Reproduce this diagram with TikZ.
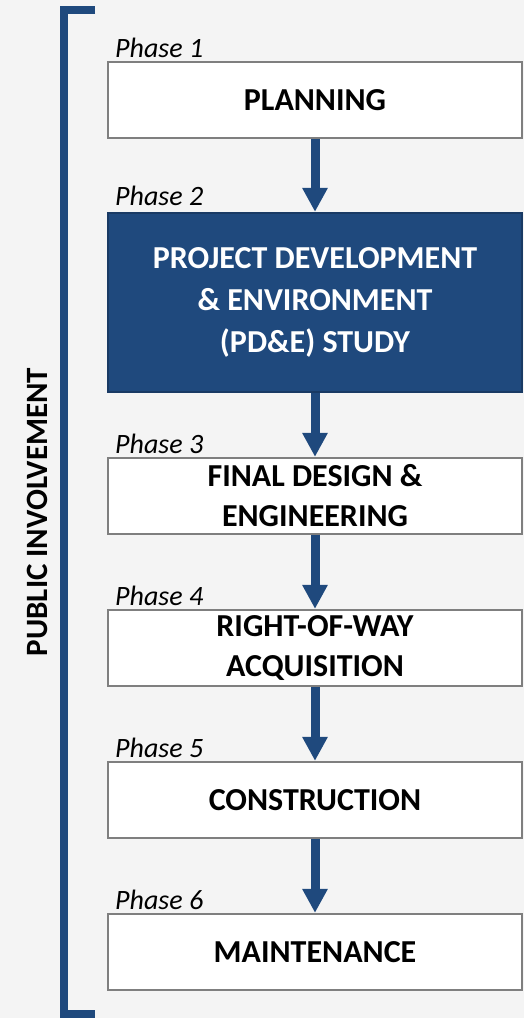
\documentclass[tikz,border=0pt]{standalone}
\usepackage{fontspec}
\setmainfont{Carlito}
\usetikzlibrary{arrows.meta}
\definecolor{fdotblue}{HTML}{1F497D}
\definecolor{bggray}{HTML}{F4F4F4}
\definecolor{boxline}{HTML}{7F7F7F}
\tikzset{
  phasebox/.style={draw=boxline, line width=1.3pt, fill=white, minimum width=414pt, inner sep=0pt,
    align=center, font=\fontsize{32}{40}\selectfont\bfseries, text=black},
  darkbox/.style={phasebox, fill=fdotblue, draw=fdotblue!80!black, text=white, font=\fontsize{32}{42}\selectfont\bfseries},
  phaselabel/.style={anchor=base west, inner sep=0pt, font=\fontsize{28}{32}\selectfont\itshape},
  flowarrow/.style={draw=fdotblue, line width=9pt, -{Triangle[width=24pt,length=24pt]}, shorten >=0.5pt},
  bracket/.style={draw=fdotblue, line width=8pt}
}
\begin{document}
\begin{tikzpicture}[x=1pt,y=-1pt]
\fill[bggray] (0,0) rectangle (524,1018);
\useasboundingbox (0,0) rectangle (524,1018);
% bracket
\coordinate (bt) at (95,10);
\coordinate (btl) at (64,10);
\coordinate (bbl) at (64,1014);
\coordinate (bb) at (95,1014);
\draw[bracket] (bt) -- (btl) -- (bbl) -- (bb);
\node[rotate=90, font=\fontsize{31}{34}\selectfont\bfseries] (pi) at (37,512) {PUBLIC INVOLVEMENT};
% boxes
\node[phasebox, minimum height=76pt] (p1) at (315,100) {PLANNING};
\node[darkbox, minimum height=179pt] (p2) at (315,302.5) {PROJECT DEVELOPMENT\\\& ENVIRONMENT\\(PD\&E) STUDY};
\node[phasebox, minimum height=76pt] (p3) at (315,496) {FINAL DESIGN \&\\ENGINEERING};
\node[phasebox, minimum height=76pt] (p4) at (315,648) {RIGHT-OF-WAY\\ACQUISITION};
\node[phasebox, minimum height=76pt] (p5) at (315,800) {CONSTRUCTION};
\node[phasebox, minimum height=76pt] (p6) at (315,952) {MAINTENANCE};
% phase labels
\node[phaselabel] (l1) at (115,57) {Phase 1};
\node[phaselabel] (l2) at (115,205) {Phase 2};
\node[phaselabel] (l3) at (115,453) {Phase 3};
\node[phaselabel] (l4) at (115,605) {Phase 4};
\node[phaselabel] (l5) at (115,757) {Phase 5};
\node[phaselabel] (l6) at (115,909) {Phase 6};
% arrows
\draw[flowarrow] (p1.south) -- (p2.north);
\draw[flowarrow] (p2.south) -- (p3.north);
\draw[flowarrow] (p3.south) -- (p4.north);
\draw[flowarrow] (p4.south) -- (p5.north);
\draw[flowarrow] (p5.south) -- (p6.north);
\end{tikzpicture}
\end{document}
